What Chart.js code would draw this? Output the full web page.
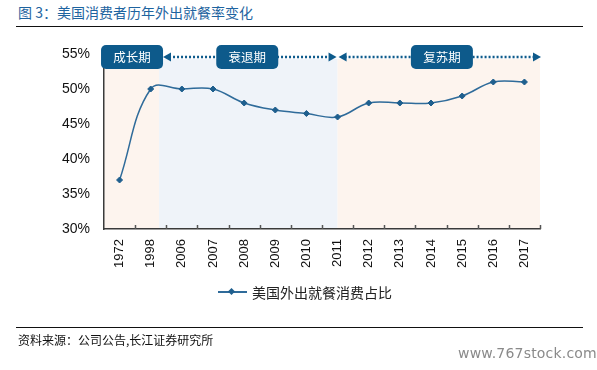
<!DOCTYPE html>
<html>
<head>
<meta charset="utf-8">
<script src="https://cdn.jsdelivr.net/npm/chart.js@4.4.1/dist/chart.umd.min.js"></script>
<style>
  html,body{margin:0;padding:0;background:#fff;}
  #wrap{position:relative;width:597px;height:370px;overflow:hidden;font-family:"Noto Sans CJK SC","Liberation Sans",sans-serif;}
  #chart{position:absolute;left:0;top:0;}
  .title{position:absolute;left:18px;top:2px;font-size:14px;color:#1e64a0;line-height:20px;}
  .rule{position:absolute;left:16px;width:567px;height:0;border-top:1.5px solid #111;}
  .src{position:absolute;left:18px;top:332px;font-size:12px;color:#111;line-height:16px;}
  .wm{position:absolute;left:458px;top:345px;font-size:14px;color:#8a8a8a;font-family:"DejaVu Sans",sans-serif;letter-spacing:0.2px;}
  .legend{position:absolute;left:218px;top:283px;height:18px;display:flex;align-items:center;font-size:14px;color:#222;}
  .legend .mk{position:relative;width:29px;height:2px;background:#2f6b9a;margin-right:5px;}
  .legend .mk:after{content:"";position:absolute;left:11px;top:-2.5px;width:5px;height:5px;background:#1f5f8e;transform:rotate(45deg);}
</style>
</head>
<body>
<div id="wrap">
  <div class="title">图 3：美国消费者历年外出就餐率变化</div>
  <div class="rule" style="top:26px"></div>
  <canvas id="chart" width="597" height="370"></canvas>
  <div class="legend"><span class="mk"></span>美国外出就餐消费占比</div>
  <div class="rule" style="top:327px"></div>
  <div class="src">资料来源：公司公告,长江证券研究所</div>
  <div class="wm">www.767stock.com</div>
</div>
<script>
const years = ["1972","1998","2006","2007","2008","2009","2010","2011","2012","2013","2014","2015","2016","2017"];
const shareValues = [37, 50, 50, 50, 48, 47, 46.5, 46, 48, 48, 48, 49, 51, 51];
const yTicks = [30, 35, 40, 45, 50, 55];
const seriesName = "美国外出就餐消费占比";
// phases, in category units along the x axis
const phaseNames = ["成长期", "衰退期", "复苏期"];
const phaseEdges = [-0.5, 1.27, 7, 13.5];
const phaseLabelAt = [0.4, 4.1, 10.35];

const bandColors = ["#fdf4ee", "#eff3f9", "#fdf4ee"];
const navy = "#0d5a8b";

function arrowHead(ctx, x, y, dir){
  ctx.beginPath();
  ctx.moveTo(x, y);
  ctx.lineTo(x - dir*8, y - 4.5);
  ctx.lineTo(x - dir*8, y + 4.5);
  ctx.closePath();
  ctx.fill();
}

const phasePlugin = {
  id: "phases",
  beforeDraw(chart){
    const {ctx, chartArea, scales:{x, y}} = chart;
    const top = y.getPixelForValue(54.3);
    ctx.save();
    for(let i = 0; i < phaseNames.length; i++){
      const x0 = x.getPixelForValue(phaseEdges[i]);
      const x1 = x.getPixelForValue(phaseEdges[i+1]);
      ctx.fillStyle = bandColors[i];
      ctx.fillRect(x0, top, x1 - x0, chartArea.bottom - top);
    }
    ctx.restore();
  },
  afterDraw(chart){
    const {ctx, chartArea, scales:{x}} = chart;
    const ay = chartArea.top + 3;
    // small inward ticks on the category axis
    ctx.save();
    ctx.strokeStyle = "#555";
    ctx.lineWidth = 1.5;
    for(let k = 1; k <= years.length; k++){
      const px = Math.round(x.getPixelForValue(k - 0.5)) + 0.5;
      ctx.beginPath();
      ctx.moveTo(px, chartArea.bottom);
      ctx.lineTo(px, chartArea.bottom - 4);
      ctx.stroke();
    }
    // boxes
    const bw = 62, bh = 24;
    const boxes = phaseLabelAt.map(v => x.getPixelForValue(v));
    // dotted arrows
    const spans = [
      [boxes[0] + bw/2, x.getPixelForValue(phaseEdges[2]) - 1],
      [x.getPixelForValue(phaseEdges[2]) + 1, chartArea.right + 1]
    ];
    ctx.strokeStyle = navy;
    ctx.fillStyle = navy;
    ctx.lineWidth = 2.5;
    ctx.setLineDash([2, 2]);
    spans.forEach(([a, b]) => {
      ctx.beginPath();
      ctx.moveTo(a + 6, ay);
      ctx.lineTo(b - 6, ay);
      ctx.stroke();
    });
    ctx.setLineDash([]);
    spans.forEach(([a, b]) => {
      arrowHead(ctx, a, ay, -1);
      arrowHead(ctx, b, ay, 1);
    });
    ctx.font = "12.5px 'Noto Sans CJK SC'";
    ctx.textAlign = "center";
    ctx.textBaseline = "middle";
    boxes.forEach((cx, i) => {
      ctx.fillStyle = navy;
      ctx.beginPath();
      ctx.roundRect(cx - bw/2, ay - bh/2, bw, bh, 5);
      ctx.fill();
      ctx.fillStyle = "#fff";
      ctx.fillText(phaseNames[i], cx, ay + 0.5);
    });
    ctx.restore();
  }
};

new Chart(document.getElementById("chart"), {
  type: "line",
  data: {
    labels: years,
    datasets: [{
      label: seriesName,
      data: shareValues,
      borderColor: "#2f6b9a",
      borderWidth: 1.5,
      tension: 0.4,
      pointStyle: "rectRot",
      pointRadius: 3,
      pointBackgroundColor: "#1f5f8e",
      pointBorderColor: "#1f5f8e",
      pointBorderWidth: 1
    }]
  },
  options: {
    responsive: false,
    animation: false,
    layout: { padding: { top: 54, right: 57, bottom: 81, left: 0 } },
    plugins: { legend: { display: false }, tooltip: { enabled: false } },
    scales: {
      x: {
        offset: true,
        grid: { display: false, drawTicks: false },
        border: { display: true, color: "#3a3a3a", width: 1.5 },
        ticks: {
          minRotation: 90, maxRotation: 90, padding: 10, autoSkip: false,
          color: "#111", font: { family: "'Liberation Sans', Arial", size: 13 }
        },
        afterFit(s){ s.height = 60; }
      },
      y: {
        min: yTicks[0], max: yTicks[yTicks.length - 1],
        grid: { display: false, drawTicks: false },
        border: { display: true, color: "#3a3a3a", width: 1.5 },
        afterBuildTicks(s){ s.ticks = yTicks.map(v => ({ value: v })); },
        ticks: {
          padding: 14, color: "#111",
          font: { family: "'Liberation Sans', Arial", size: 14 },
          callback: v => v + "%"
        },
        afterFit(s){ s.width = 104; }
      }
    }
  },
  plugins: [phasePlugin]
});
</script>
</body>
</html>
